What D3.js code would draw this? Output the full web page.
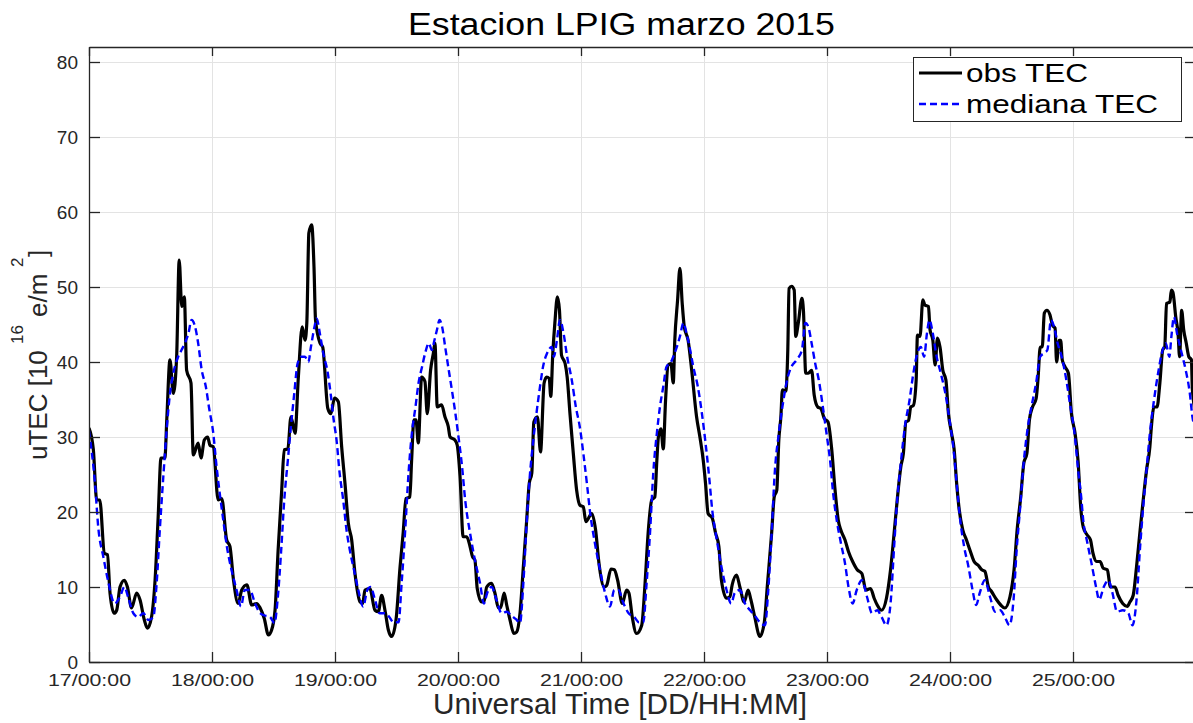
<!DOCTYPE html>
<html>
<head>
<meta charset="utf-8">
<script src="https://cdn.jsdelivr.net/npm/d3@7"></script>
<style>
  html, body { margin: 0; padding: 0; background: #fff; }
  svg { display: block; }
  text { font-family: "Liberation Sans", Arial, Helvetica, sans-serif; }
</style>
</head>
<body>
<svg id="chart" width="1193" height="723"></svg>
<script>
// Hours since 17 March 2015 00:00 UT and observed TEC (TECU)
const obsHours = [
  0, 0.85, 1.5, 2.1, 3.0, 3.6, 4.1, 4.9, 5.4, 6.05, 6.9, 7.5, 8.3, 9.3, 9.95, 10.8, 11.4, 12.2, 12.9, 13.5, 14.05, 14.8, 15.2, 15.8, 16.45, 17.1, 17.6, 18.1, 18.6, 19.05, 19.9, 20.35, 21.3, 21.85, 22.5, 23.15, 23.6,
  24.25, 25.2, 25.9, 26.85, 27.5, 28.2, 29.1, 29.8, 30.8, 31.75, 32.7, 33.4, 34.2, 35.0, 35.6, 36.3, 36.9, 37.6, 38.1, 38.8, 39.4, 40.2, 40.85, 41.6, 42.15, 42.5, 42.9, 43.45, 43.9, 44.2, 45.1, 45.6, 46.6, 47.2, 47.9,
  48.65, 49.3, 49.95, 50.6, 51.25, 51.9, 52.9, 53.4, 53.85, 54.8, 55.8, 56.45, 57.1, 57.75, 58.4, 59.05, 59.9, 60.7, 61.3, 61.85, 62.6, 62.95, 63.4, 63.8, 64.25, 64.9, 65.55, 66.0, 66.65, 67.2, 67.5, 67.95, 68.8, 69.45, 70.1, 70.45, 71.4, 71.85,
  72.4, 73.0, 73.7, 74.35, 74.85, 75.3, 75.75, 76.6, 77.05, 77.6, 78.55, 79.2, 79.9, 80.3, 81.0, 81.5, 82.15, 82.9, 83.45, 84.1, 84.75, 85.4, 85.9, 86.4, 86.8, 87.5, 88.1, 88.8, 89.3, 89.8, 90.1, 90.5, 90.9, 91.4, 91.8, 92.2, 92.9, 93.3, 93.85, 94.5, 95.15, 95.8,
  96.45, 96.95, 98.1, 98.85, 99.5, 100.55, 101.0, 101.85, 102.5, 103.15, 104.05, 104.9, 105.35, 106.0, 106.85, 107.85, 108.5, 109.1, 109.8, 110.4, 110.8, 111.1, 111.6, 112.05, 112.5, 113.0, 113.55, 114.0, 114.3, 114.85, 115.3, 115.75, 116.15, 116.9, 117.6, 118.55, 119.2, 119.85,
  120.3, 120.8, 121.6, 122.25, 122.9, 123.4, 124.4, 125.05, 125.5, 126.35, 127.0, 127.85, 128.6, 129.15, 129.9, 130.9, 131.75, 132.4, 133.2, 133.7, 134.2, 134.6, 135.0, 135.3, 135.95, 136.35, 136.6, 137.1, 137.6, 137.9, 138.4, 139.1, 139.4, 139.85, 140.35, 141.0, 141.5, 142.2, 142.8, 143.45,
  144.2, 144.9, 145.55, 146.2, 146.7, 147.5, 148.2, 149.0, 149.9, 150.8, 151.6, 152.5, 153.2, 153.8, 154.65, 155.6, 156.4, 157.1, 157.7, 158.4, 158.9, 159.4, 159.9, 160.35, 160.85, 161.4, 161.65, 162.15, 162.7, 163.1, 163.8, 164.1, 164.65, 165.1, 165.55, 166.05, 166.6, 167.2, 167.7,
  168.3, 168.8, 169.3, 169.8, 170.5, 171.2, 171.9, 172.7, 173.5, 174.2, 174.8, 175.5, 176.1, 177.1, 177.9, 178.7, 179.7, 180.5, 181.1, 181.8, 182.4, 183.0, 183.5, 184.1, 184.8, 185.2, 185.6, 186.0, 186.4, 186.9, 187.5, 188.0, 188.5, 188.8, 189.3, 189.6, 189.9, 190.4, 191.1, 191.7,
  192.4, 193.0, 193.5, 194.0, 194.8, 195.4, 195.9, 196.6, 197.3, 197.9, 198.7, 199.3, 200.2, 200.8, 201.7, 202.6, 203.1, 203.75, 204.4, 205.1, 205.7, 206.35, 207.0, 207.3, 207.8, 208.4, 208.95, 209.5, 209.9, 210.25, 210.9, 211.2, 211.5, 212.05, 212.5, 212.8, 213.2, 213.6, 214.1, 214.6, 215.1, 215.3, 216
];
const obsTEC = [
  31.2, 28.3, 21.6, 21.6, 14.5, 14.3, 9.2, 6.5, 6.9, 10.0, 10.9, 10.0, 7.2, 9.2, 8.3, 5.6, 4.5, 6.0, 11.0, 19.4, 27.2, 27.2, 32.7, 40.3, 35.8, 40.7, 53.6, 47.4, 48.7, 38.9, 37.2, 27.6, 29.2, 27.2, 29.6, 30.0, 28.9,
  28.7, 21.6, 21.8, 16.3, 15.4, 10.9, 7.8, 9.6, 10.3, 7.6, 7.8, 7.2, 5.8, 3.6, 4.2, 6.9, 14.9, 22.9, 28.3, 28.4, 32.7, 30.5, 38.0, 44.7, 42.9, 45.2, 57.2, 58.3, 52.7, 45.6, 42.5, 42.0, 33.8, 33.1, 35.2,
  34.7, 28.7, 23.8, 18.5, 16.3, 11.8, 8.0, 7.8, 9.6, 9.8, 6.9, 6.7, 8.9, 6.9, 4.3, 3.4, 5.6, 12.7, 17.2, 21.8, 22.0, 26.9, 32.3, 32.3, 29.2, 38.0, 37.4, 33.1, 38.9, 41.2, 42.5, 34.0, 34.3, 32.7, 31.4, 30.0, 29.6, 28.9,
  24.7, 16.7, 16.7, 15.4, 14.0, 13.6, 9.8, 8.0, 8.0, 10.0, 10.5, 9.2, 7.2, 7.2, 9.2, 7.6, 5.6, 3.8, 4.0, 6.5, 12.7, 18.9, 23.8, 25.2, 32.0, 32.7, 28.0, 37.2, 38.0, 37.8, 35.4, 41.2, 45.2, 48.7, 46.9, 40.9, 39.8, 38.0, 33.1, 27.8, 22.9, 20.9,
  20.7, 18.7, 19.8, 17.6, 13.2, 10.0, 10.2, 12.4, 12.3, 10.9, 7.8, 9.6, 9.2, 6.0, 3.8, 4.9, 10.5, 17.2, 21.6, 22.0, 26.9, 30.0, 31.1, 28.4, 34.9, 39.6, 39.8, 37.2, 42.9, 48.3, 52.5, 47.8, 44.7, 42.9, 38.9, 32.7, 30.0, 26.9,
  23.8, 19.8, 19.2, 17.2, 15.4, 10.9, 8.5, 8.7, 10.3, 11.6, 10.0, 8.0, 9.6, 8.3, 6.0, 3.4, 5.2, 10.5, 17.2, 22.0, 22.9, 29.6, 32.7, 36.3, 36.1, 41.6, 49.8, 50.1, 49.6, 43.4, 45.2, 48.5, 46.9, 38.5, 38.5, 38.9, 35.6, 34.0, 33.8, 32.5,
  32.0, 28.5, 23.1, 18.9, 17.6, 16.3, 14.7, 13.4, 12.3, 11.8, 9.6, 9.8, 8.5, 7.6, 6.9, 8.5, 12.3, 17.2, 21.6, 26.0, 27.8, 32.0, 32.2, 34.0, 34.2, 37.6, 43.6, 43.4, 48.3, 47.6, 47.4, 44.3, 42.9, 39.6, 43.2, 42.0, 38.9, 37.6, 33.1,
  30.5, 28.4, 23.8, 20.3, 17.6, 16.3, 14.9, 13.4, 12.9, 12.3, 12.1, 10.0, 9.4, 8.3, 7.6, 7.2, 8.7, 12.3, 17.6, 22.0, 26.5, 27.8, 32.3, 34.0, 35.1, 38.0, 42.0, 42.0, 46.5, 46.9, 46.3, 44.9, 44.5, 40.0, 42.9, 42.9, 40.3, 39.4, 38.5, 33.1,
  30.5, 26.7, 20.7, 18.0, 16.9, 16.3, 14.5, 13.4, 13.4, 12.5, 12.3, 10.0, 10.0, 8.9, 7.8, 7.4, 8.0, 8.9, 12.7, 17.6, 21.6, 25.6, 28.7, 31.4, 34.0, 34.0, 37.2, 41.6, 42.0, 47.8, 48.0, 49.6, 49.3, 46.0, 43.8, 40.7, 46.9, 44.3, 42.5, 40.7, 40.3, 36.3, 33.0
];

// Hours since 17 March 2015 00:00 UT and median reference TEC (TECU)
const medHours = [
  0, 1.17, 1.8, 2.8, 3.7, 5.0, 6.05, 6.9, 7.7, 8.65, 9.6, 10.6, 11.6, 12.55, 13.2, 13.85, 14.5, 15.15, 15.8, 16.45, 17.4, 18.05, 18.7, 19.4, 20.0, 20.7, 21.3, 22.0, 22.8, 23.4,
  24.25, 24.9, 25.6, 26.2, 26.9, 27.8, 28.8, 29.65, 30.4, 31.4, 32.4, 33.4, 34.3, 35.3, 36.2, 36.8, 37.5, 38.1, 38.8, 39.4, 40.05, 40.7, 41.4, 42.15, 42.8, 43.3, 44.0, 44.4, 45.1, 45.7, 46.6, 47.2, 47.7,
  48.3, 48.9, 49.6, 50.25, 50.9, 51.7, 52.55, 53.5, 54.3, 54.95, 55.8, 56.7, 57.75, 58.6, 59.4, 60.4, 61.0, 61.7, 62.35, 63.0, 63.7, 64.3, 65.0, 65.6, 66.3, 66.9, 67.4, 67.9, 68.4, 68.9, 69.5, 70.2, 70.8, 71.5,
  72.1, 72.8, 73.4, 74.35, 75.3, 76.3, 77.05, 77.7, 78.55, 79.5, 80.5, 81.5, 82.45, 83.45, 84.1, 84.75, 85.4, 86.0, 86.7, 87.3, 88.0, 88.6, 89.4, 90.3, 90.7, 91.3, 91.9, 92.6, 93.3, 94.2, 95.0, 95.8,
  96.6, 97.2, 97.8, 98.7, 99.7, 100.7, 101.65, 102.5, 103.3, 104.3, 105.3, 106.4, 107.3, 108.15, 108.8, 109.5, 110.1, 110.8, 111.4, 112.05, 112.7, 113.4, 114.0, 114.7, 115.3, 116.0, 116.6, 117.3, 117.9, 118.8, 119.6,
  120.3, 121.0, 121.6, 122.5, 123.4, 124.4, 125.3, 126.0, 127.0, 128.0, 129.0, 129.9, 130.9, 131.9, 132.5, 133.2, 133.8, 134.6, 135.5, 136.35, 137.1, 138.1, 139.1, 139.8, 140.35, 141.0, 141.7, 142.4, 143.3,
  144.0, 144.6, 145.2, 145.9, 146.7, 147.5, 148.2, 149.0, 149.8, 150.8, 151.8, 152.8, 153.8, 154.65, 155.6, 156.4, 157.1, 157.7, 158.4, 159.2, 160.1, 160.85, 161.65, 162.3, 162.95, 163.5, 164.0, 164.65, 165.4, 166.2, 167.1, 167.9,
  168.7, 169.3, 170.0, 170.75, 171.6, 172.4, 173.1, 173.8, 174.8, 175.8, 176.8, 177.8, 178.7, 179.6, 180.4, 181.0, 181.7, 182.3, 183.1, 184.0, 184.8, 185.6, 186.4, 187.0, 187.7, 188.3, 189.0, 189.8, 190.7, 191.5,
  192.3, 193.0, 193.6, 194.0, 194.8, 195.6, 196.5, 197.1, 198.0, 198.9, 199.7, 200.6, 201.7, 202.8, 203.6, 204.4, 205.1, 205.7, 206.35, 207.0, 207.8, 208.6, 209.5, 210.1, 210.8, 211.2, 211.7, 212.3, 213.2, 214.0, 214.8, 215.3, 216
];
const medTEC = [
  30.8, 23.8, 18.0, 14.0, 10.9, 7.8, 8.7, 10.0, 8.5, 6.5, 6.0, 6.5, 5.6, 6.0, 10.5, 18.0, 24.7, 30.9, 35.8, 38.5, 40.7, 41.6, 42.5, 43.8, 45.6, 44.7, 42.5, 38.9, 36.7, 34.0,
  30.5, 26.0, 22.0, 18.9, 15.4, 12.3, 9.6, 7.4, 9.6, 9.6, 7.8, 6.5, 6.2, 6.0, 5.2, 8.3, 14.9, 21.6, 26.9, 31.4, 35.8, 39.8, 40.7, 40.7, 40.0, 42.0, 44.7, 45.8, 43.6, 41.2, 38.5, 35.5, 32.5,
  29.6, 25.2, 21.6, 17.6, 14.9, 12.3, 9.6, 7.4, 9.6, 10.0, 8.3, 6.5, 6.5, 6.0, 5.3, 5.3, 10.5, 17.6, 25.2, 30.5, 34.0, 37.2, 39.4, 41.2, 42.5, 41.6, 42.9, 44.3, 45.6, 44.7, 42.0, 38.9, 36.3, 33.1,
  30.0, 26.0, 21.6, 17.2, 13.6, 10.5, 7.8, 9.2, 10.0, 8.3, 6.5, 6.7, 6.2, 5.6, 5.2, 10.5, 18.5, 24.7, 29.6, 33.1, 36.7, 39.4, 41.2, 42.0, 40.7, 42.9, 45.6, 43.8, 40.7, 37.6, 34.0, 31.2,
  27.0, 23.5, 19.8, 15.9, 12.3, 9.2, 7.4, 9.6, 9.6, 7.8, 6.5, 6.0, 5.3, 5.3, 10.5, 17.6, 25.2, 30.5, 34.0, 36.7, 39.4, 39.8, 40.7, 42.0, 43.4, 45.2, 43.8, 41.6, 39.4, 36.7, 33.1,
  29.2, 24.7, 20.3, 16.3, 12.7, 9.6, 7.8, 9.2, 9.6, 7.8, 6.9, 6.2, 5.3, 4.9, 9.2, 17.2, 25.2, 30.5, 34.9, 38.0, 39.4, 40.3, 41.6, 45.2, 44.7, 42.5, 39.8, 37.6, 33.5,
  30.0, 26.9, 22.5, 18.9, 15.9, 13.2, 10.0, 7.8, 9.6, 10.9, 8.7, 6.5, 6.9, 6.0, 4.9, 7.8, 15.4, 21.6, 26.5, 31.4, 34.9, 38.5, 41.2, 42.0, 40.7, 43.8, 45.6, 43.8, 40.7, 38.5, 35.8, 32.3,
  28.3, 23.8, 18.9, 15.4, 12.7, 9.6, 7.6, 9.2, 10.9, 8.7, 6.7, 6.9, 6.0, 4.9, 8.3, 14.9, 20.7, 26.0, 30.9, 34.4, 37.2, 40.7, 41.2, 41.6, 45.6, 44.7, 42.5, 40.7, 37.6, 34.0,
  30.5, 25.6, 22.0, 18.9, 15.9, 13.2, 10.0, 8.3, 10.0, 10.9, 9.2, 6.7, 6.9, 6.5, 4.9, 8.3, 15.4, 20.7, 25.6, 30.5, 34.9, 38.5, 41.6, 42.5, 40.7, 43.4, 46.0, 43.8, 41.2, 38.9, 35.8, 32.7, 31.0
];

// Axis ticks and labels
const dayTickHours = [0, 24, 48, 72, 96, 120, 144, 168, 192];
const dayTickLabels = ["17/00:00", "18/00:00", "19/00:00", "20/00:00", "21/00:00", "22/00:00", "23/00:00", "24/00:00", "25/00:00"];
const tecTicks = [0, 10, 20, 30, 40, 50, 60, 70, 80];
const seriesNames = ["obs TEC", "mediana TEC"];

const svg = d3.select("#chart");
const ink = "#262626";
const fontStack = "'Liberation Sans', Arial, Helvetica, sans-serif";

const x = d3.scaleLinear().domain([0, 216]).range([89, 1196]);
const y = d3.scaleLinear().domain([0, 82]).range([662, 47]);

// Grid
const grid = svg.append("g").attr("stroke", "#e3e3e3").attr("stroke-width", 1);
grid.selectAll("line.gy").data(tecTicks).join("line")
  .attr("class", "gy")
  .attr("x1", x(0)).attr("x2", x(216))
  .attr("y1", d => Math.round(y(d)) + 0.5).attr("y2", d => Math.round(y(d)) + 0.5);
grid.selectAll("line.gx").data(dayTickHours).join("line")
  .attr("class", "gx")
  .attr("y1", y(82)).attr("y2", y(0))
  .attr("x1", d => Math.round(x(d)) + 0.5).attr("x2", d => Math.round(x(d)) + 0.5);

// Clip series to the axes area
svg.append("clipPath").attr("id", "plot-clip")
  .append("rect").attr("x", x(0)).attr("y", y(82)).attr("width", x(216) - x(0)).attr("height", y(0) - y(82));

const line = d3.line()
  .x(d => x(d[0]))
  .y(d => y(d[1]))
  .curve(d3.curveMonotoneX);

const obsData = obsHours.map((h, i) => [h, obsTEC[i]]);
const medData = medHours.map((h, i) => [h, medTEC[i]]);

const plot = svg.append("g").attr("clip-path", "url(#plot-clip)");
plot.append("path")
  .datum(obsData)
  .attr("fill", "none")
  .attr("stroke", "#000")
  .attr("stroke-width", 3.2)
  .attr("stroke-linejoin", "round")
  .attr("d", line);
plot.append("path")
  .datum(medData)
  .attr("fill", "none")
  .attr("stroke", "#0000ff")
  .attr("stroke-width", 2.4)
  .attr("stroke-dasharray", "7,4")
  .attr("d", line);

// Axes (ticks point inward)
function styleAxis(g, size) {
  g.attr("font-size", size).attr("font-family", fontStack);
  g.selectAll(".domain").attr("stroke", ink).attr("stroke-width", 1.3);
  g.selectAll(".tick line").attr("stroke", ink).attr("stroke-width", 1.3);
  g.selectAll(".tick text").attr("fill", ink)
    .attr("font-size", size).style("font-size", size + "px");
}

const xAxisG = svg.append("g")
  .attr("transform", `translate(0,${y(0)})`)
  .call(d3.axisBottom(x).tickValues(dayTickHours).tickFormat((d, i) => dayTickLabels[i])
    .tickSizeInner(-10).tickSizeOuter(0).tickPadding(12))
  .call(styleAxis, 16.5);
xAxisG.selectAll(".tick text")
  .attr("textLength", 83).attr("lengthAdjust", "spacingAndGlyphs");

svg.append("g")
  .attr("transform", `translate(0,${y(82)})`)
  .call(d3.axisTop(x).tickValues(dayTickHours).tickFormat("")
    .tickSizeInner(-9).tickSizeOuter(0))
  .call(styleAxis, 16);

svg.append("g")
  .attr("transform", `translate(${x(0)},0)`)
  .call(d3.axisLeft(y).tickValues(tecTicks).tickFormat(d3.format("d"))
    .tickSizeInner(-11).tickSizeOuter(0).tickPadding(11))
  .call(styleAxis, 19);

svg.append("g")
  .attr("transform", `translate(${x(216)},0)`)
  .call(d3.axisRight(y).tickValues(tecTicks).tickFormat("")
    .tickSizeInner(-11).tickSizeOuter(0))
  .call(styleAxis, 16);

// Title
svg.append("text")
  .attr("x", 408).attr("y", 35)
  .attr("textLength", 427).attr("lengthAdjust", "spacingAndGlyphs")
  .style("font-size", "31px").attr("fill", "#000")
  .text("Estacion LPIG marzo 2015");

// X axis label
svg.append("text")
  .attr("x", 433).attr("y", 714)
  .attr("textLength", 374).attr("lengthAdjust", "spacingAndGlyphs")
  .style("font-size", "30px").attr("fill", ink)
  .text("Universal Time [DD/HH:MM]");

// Y axis label with superscripts
const yl = svg.append("g").attr("transform", "translate(47,460) rotate(-90)").attr("fill", ink);
yl.append("text").attr("x", 0).attr("y", 0).style("font-size", "26px").text("uTEC [10");
yl.append("text").attr("x", 116).attr("y", -24).style("font-size", "17px").text("16");
yl.append("text").attr("x", 143).attr("y", 0).style("font-size", "26px").text("e/m");
yl.append("text").attr("x", 193).attr("y", -24).style("font-size", "17px").text("2");
yl.append("text").attr("x", 203).attr("y", 0).style("font-size", "26px").text("]");

// Legend
const lg = svg.append("g");
lg.append("rect")
  .attr("x", 913.5).attr("y", 57.5).attr("width", 268).attr("height", 64)
  .attr("fill", "#fff").attr("stroke", ink).attr("stroke-width", 1);
lg.append("line")
  .attr("x1", 919).attr("x2", 962).attr("y1", 73).attr("y2", 73)
  .attr("stroke", "#000").attr("stroke-width", 3.2);
lg.append("line")
  .attr("x1", 919).attr("x2", 962).attr("y1", 104).attr("y2", 104)
  .attr("stroke", "#0000ff").attr("stroke-width", 2.4).attr("stroke-dasharray", "7,4");
lg.append("text")
  .attr("x", 966).attr("y", 82)
  .attr("textLength", 122).attr("lengthAdjust", "spacingAndGlyphs")
  .style("font-size", "25px").attr("fill", "#000")
  .text(seriesNames[0]);
lg.append("text")
  .attr("x", 966).attr("y", 113)
  .attr("textLength", 192).attr("lengthAdjust", "spacingAndGlyphs")
  .style("font-size", "25px").attr("fill", "#000")
  .text(seriesNames[1]);
</script>
</body>
</html>
